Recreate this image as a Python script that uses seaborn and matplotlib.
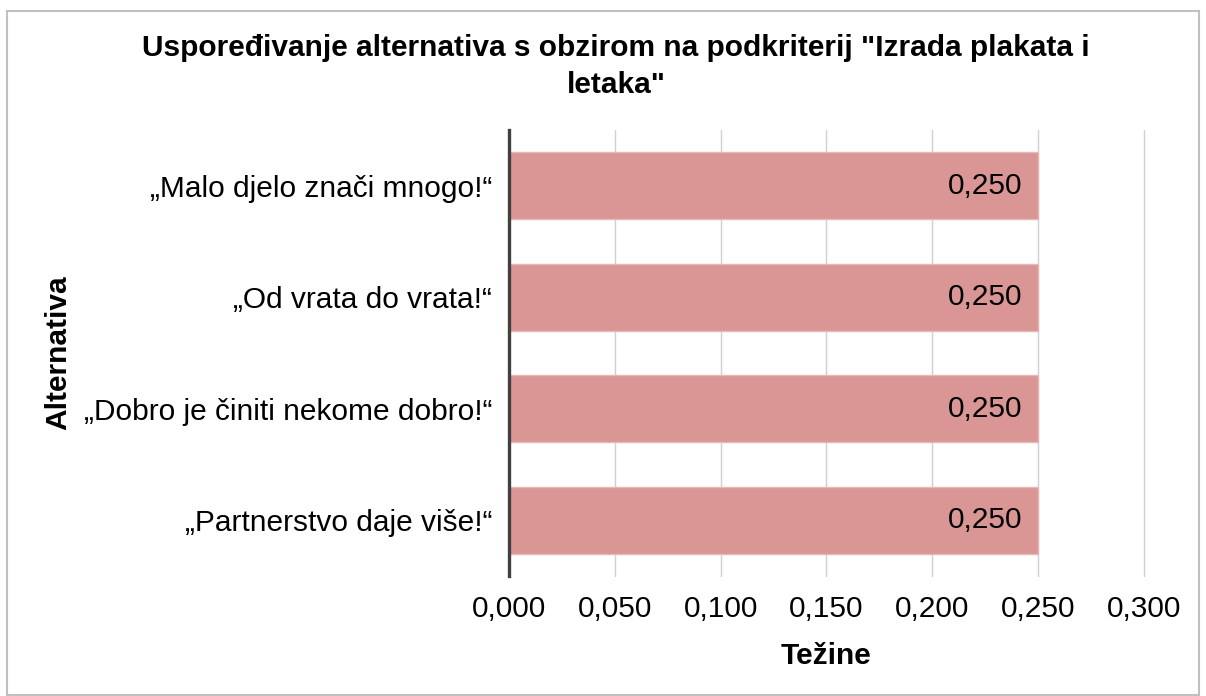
import matplotlib
matplotlib.use("Agg")
import matplotlib.pyplot as plt
import matplotlib.patches as patches
from matplotlib.ticker import FuncFormatter, MultipleLocator
import seaborn as sns
import pandas as pd

# podaci
alternative = ["„Malo djelo znači mnogo!“", "„Od vrata do vrata!“",
               "„Dobro je činiti nekome dobro!“", "„Partnerstvo daje više!“"]
tezine = [0.250, 0.250, 0.250, 0.250]
naslov = "Uspoređivanje alternativa s obzirom na podkriterij \"Izrada plakata i\nletaka\""

df = pd.DataFrame({"Alternativa": alternative, "Tezine": tezine})

sns.set_theme(style="white")
plt.rcParams["font.family"] = ["Liberation Sans", "DejaVu Sans"]
plt.rcParams["text.color"] = "black"
plt.rcParams["axes.labelcolor"] = "black"

fig = plt.figure(figsize=(12.06, 6.96), dpi=100)
ax = fig.add_axes([0.422, 0.1724, 0.5266, 0.6408])

sns.barplot(data=df, x="Tezine", y="Alternativa", orient="h", color="#D99694",
            saturation=1, width=0.6, edgecolor="#E8B8B6", linewidth=1, ax=ax, zorder=2)

ax.set_xlim(0, 0.3)
ax.set_ylim(3.5, -0.5)
ax.xaxis.set_major_locator(MultipleLocator(0.05))
ax.xaxis.set_major_formatter(FuncFormatter(lambda v, p: f"{v:.3f}".replace(".", ",")))
ax.grid(axis="x", color="#D0D0D0", linewidth=1, zorder=0)
for gl in ax.get_xgridlines():
    gl.set_clip_on(False)
ax.set_axisbelow(True)

for s in ["top", "right", "bottom"]:
    ax.spines[s].set_visible(False)
ax.spines["left"].set_color("#404040")
ax.spines["left"].set_linewidth(2.4)
ax.spines["left"].set_zorder(3)

ax.tick_params(axis="x", length=0, pad=14, labelsize=21.5, colors="black")
ax.tick_params(axis="y", length=0, pad=12, labelsize=21.5, colors="black")

# vrijednosti na kraju stupaca
for i, v in enumerate(tezine):
    ax.text(v - 0.0075, i, f"{v:.3f}".replace(".", ","), ha="right", va="center",
            fontsize=21.5, color="black", zorder=4)

ax.set_xlabel("Težine", fontsize=21.5, fontweight="bold", labelpad=13)
ax.set_ylabel("Alternativa", fontsize=21.5, fontweight="bold", labelpad=0)
ax.yaxis.set_label_coords(-0.688, 0.5)

fig.text(0.511, 0.905, naslov, ha="center", va="center", fontsize=21.5,
         fontweight="bold", linespacing=1.4)

fig.patches.append(patches.Rectangle((0.0058, 0.002), 0.988, 0.982, transform=fig.transFigure,
                                     fill=False, edgecolor="#C0C0C0", linewidth=1.5))

fig.savefig("out.png", dpi=100)
